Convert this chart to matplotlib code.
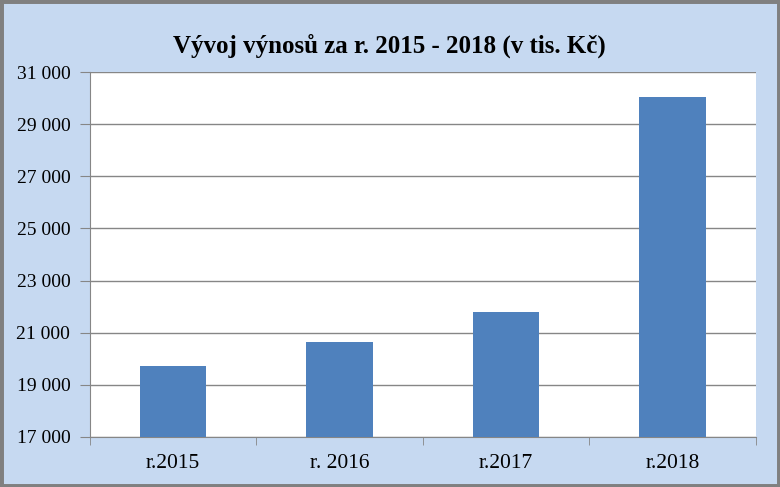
import matplotlib.pyplot as plt
from matplotlib.ticker import FuncFormatter, FixedLocator
from matplotlib.patches import Rectangle

labels = ["r.2015", "r. 2016", "r.2017", "r.2018"]
vynosy = [19700, 20650, 21800, 30050]
title = "Vývoj výnosů za r. 2015 - 2018 (v tis. Kč)"

bg = "#C6D9F1"
gray = "#868686"

plt.rcParams["font.family"] = ["Liberation Serif", "DejaVu Serif"]

fig = plt.figure(figsize=(7.8, 4.87), dpi=100, facecolor=bg)
ax = fig.add_axes([0.115, 0.103, 0.854, 0.749])

x = range(len(labels))
ax.bar(x, vynosy, width=0.4, color="#4F81BD", zorder=3)

ax.set_ylim(17000, 31000)
ax.set_xlim(-0.5, len(labels) - 0.5)
ax.set_yticks(range(17000, 31001, 2000))
ax.yaxis.set_major_formatter(FuncFormatter(lambda v, p: f"{int(v):,}".replace(",", " ")))
ax.yaxis.grid(True, color=gray, linewidth=1, zorder=0)

ax.set_xticks(list(x))
ax.set_xticklabels(labels)
ax.xaxis.set_minor_locator(FixedLocator([i - 0.5 for i in range(len(labels) + 1)]))
ax.tick_params(axis="x", which="major", length=0, pad=12, labelsize=15.5)
ax.tick_params(axis="x", which="minor", length=6, color=gray, direction="out")
ax.tick_params(axis="y", length=7, color=gray, labelsize=14, pad=7)

for s in ["top", "right"]:
    ax.spines[s].set_visible(False)
for s in ["left", "bottom"]:
    ax.spines[s].set_color(gray)

fig.text(0.499, 0.905, title, ha="center", va="center", fontsize=18, fontweight="bold")

# okraj grafu
fig.patches.append(Rectangle((0, 0), 1, 1, transform=fig.transFigure, fill=False,
                             edgecolor="#808080", linewidth=5))

fig.savefig("out.png", dpi=100, facecolor=bg)
